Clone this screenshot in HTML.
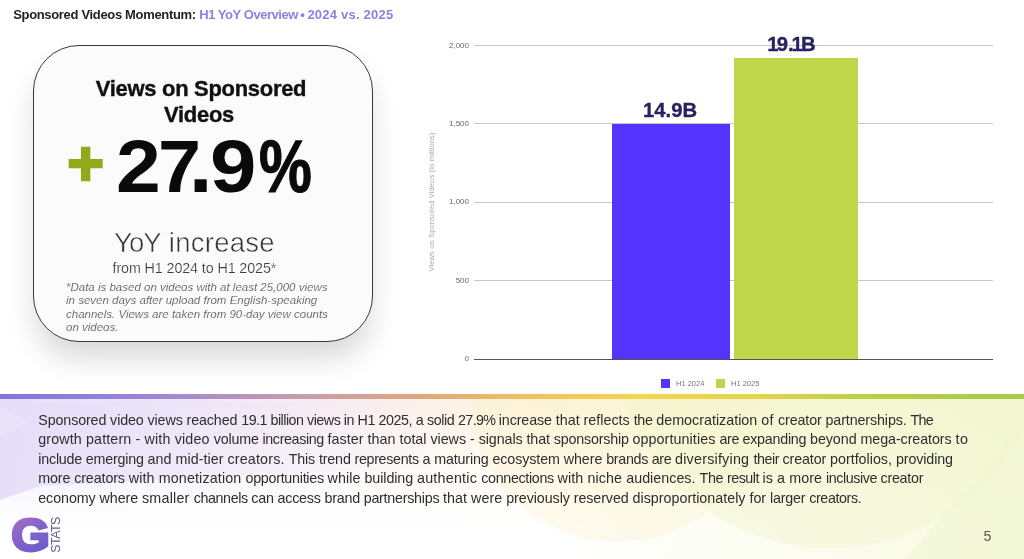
<!DOCTYPE html>
<html lang="en">
<head>
<meta charset="utf-8">
<title>Sponsored Videos Momentum</title>
<style>
*{margin:0;padding:0;box-sizing:border-box}
html,body{width:1024px;height:559px;overflow:hidden;background:#fff}
body{position:relative;font-family:"Liberation Sans",sans-serif;color:#111}
#w{position:absolute;left:0;top:0;width:1024px;height:559px;will-change:transform}
.abs{position:absolute;white-space:nowrap}
/* bottom band */
#band{position:absolute;left:0;top:394px;width:1024px;height:165px;display:block}
#bar{position:absolute;left:0;top:394.4px;width:1024px;height:4.4px;
background:linear-gradient(90deg,#8375dc 0%,#9c86d6 15%,#c49cae 28%,#e2a87c 42%,#f0c260 52%,#f5d452 62%,#e2d44e 74%,#b8cf4a 85%,#a6cb48 100%)}
/* title */
#title{left:13.2px;top:6px;font-size:13px;font-weight:700;line-height:18px;color:#222;letter-spacing:-.33px}
#title2{left:199.2px;top:6px;font-size:13px;font-weight:700;line-height:18px;color:#8d80e4;letter-spacing:-.45px}
/* card */
#card{position:absolute;left:33px;top:45px;width:340px;height:297px;border:1.7px solid #383838;border-radius:46px;background:#fbfbfb;
box-shadow:0 19px 30px -3px rgba(0,0,0,.16)}
.c{position:absolute;left:33px;width:340px;text-align:center;white-space:nowrap}
#h1b{left:29px;top:100.9px;font-size:23px;font-weight:700;line-height:27px;color:#111;letter-spacing:-.3px;transform:scale(.955,.935);transform-origin:50% 78%;-webkit-text-stroke:.4px #111}
#h1{left:30.5px;top:74.6px;font-size:23px;font-weight:700;line-height:27px;color:#111;letter-spacing:-.3px;transform:scale(.955,.935);transform-origin:50% 78%;-webkit-text-stroke:.4px #111}
#big{left:116.35px;top:122px;font-size:75px;font-weight:700;line-height:80px;height:80px;color:#0a0a0a}
#big b{display:inline-block;font-weight:700;transform-origin:0 50%}
#plus{left:67.3px;top:123.4px;font-size:63px;font-weight:700;line-height:80px;color:#93a91c;-webkit-text-stroke:2.4px #93a91c}
#yoy{left:24.5px;top:226.6px;font-size:27.5px;line-height:32px;color:#333;-webkit-text-stroke:.55px #fbfbfb}
#from{left:24.4px;top:258.6px;font-size:14.3px;line-height:18px;color:#3a3a3a;letter-spacing:-.1px;-webkit-text-stroke:.2px #fbfbfb}
#note{left:66px;top:280.5px;font-size:11.5px;line-height:13.6px;font-style:italic;color:#505050;white-space:nowrap;-webkit-text-stroke:.15px #fbfbfb}
/* chart */
.g{position:absolute;left:474px;width:519px;height:1px;background:#c6c6c6}
.t{position:absolute;left:420px;width:49px;text-align:right;font-size:8px;line-height:10px;color:#666}
#b1{position:absolute;left:611.5px;top:124.2px;width:118px;height:234.8px;background:#5533ff}
#b2{position:absolute;left:733.8px;top:58.4px;width:124px;height:300.6px;background:#bfd64a}
.v i{font-style:normal;margin:0 -1.8px 0 -2.2px}
.v{font-size:20.3px;font-weight:700;color:#262360;line-height:22px;text-align:center;-webkit-text-stroke:.3px #262360}
#ax{left:432px;top:201.6px;font-size:7.5px;letter-spacing:.13px;color:#aaa;line-height:8px;transform:translate(-50%,-50%) rotate(-90deg)}
.ls{position:absolute;width:9px;height:9px;top:379px}
.lt{font-size:7.5px;color:#777;line-height:9px;top:379.3px}
/* body text */
#p{position:absolute;left:38.3px;top:411px;font-size:14.3px;line-height:19.45px;color:#2e2e2e}
#p span{display:block;position:relative;height:19.45px;white-space:pre}
#p i{position:absolute;top:0;font-style:normal;white-space:pre}
#pg{left:983.6px;top:527.8px;font-size:14.3px;line-height:16px;color:#555}
#G{position:absolute;left:0;top:505px;width:64px;height:54px;overflow:visible}
#stats{left:55.5px;top:535px;font-size:12.5px;line-height:14px;color:#635c88;letter-spacing:-.6px;transform:translate(-50%,-50%) rotate(-90deg)}
</style>
</head>
<body>
<div id="w">
<svg id="band" width="1024" height="165" viewBox="0 0 1024 165">
<defs>
<linearGradient id="hz" x1="0" x2="1" y1="0" y2="0">
<stop offset="0" stop-color="#e5ddfa"/><stop offset=".14" stop-color="#ebe3f9"/><stop offset=".28" stop-color="#f5e9f3"/>
<stop offset=".42" stop-color="#fdf0e6"/><stop offset=".55" stop-color="#fef5d6"/><stop offset=".68" stop-color="#fcf8d0"/>
<stop offset=".82" stop-color="#f4f8cf"/><stop offset="1" stop-color="#ebf5c7"/>
</linearGradient>
<linearGradient id="vf" x1="0" x2="0" y1="0" y2="1">
<stop offset="0" stop-color="#fff" stop-opacity="0"/><stop offset=".2" stop-color="#fff" stop-opacity=".3"/>
<stop offset=".5" stop-color="#fff" stop-opacity=".68"/><stop offset=".72" stop-color="#fff" stop-opacity=".93"/><stop offset=".85" stop-color="#fff" stop-opacity="1"/>
</linearGradient>
<linearGradient id="lv" x1="0" x2="1" y1="0" y2="0">
<stop offset="0" stop-color="#e5def9" stop-opacity="1"/><stop offset="1" stop-color="#f3e8f6" stop-opacity="0"/>
</linearGradient>
<linearGradient id="rt" x1="0" x2="1" y1="0" y2="0"><stop offset="0" stop-color="#f7f9e0" stop-opacity="0"/><stop offset=".6" stop-color="#f8fae0" stop-opacity=".6"/><stop offset="1" stop-color="#f4f8d8" stop-opacity=".75"/></linearGradient>
</defs>
<rect width="1024" height="165" fill="url(#hz)"/>
<rect width="1024" height="165" fill="url(#vf)"/>
<polygon points="0,8 0,106 40,92 440,72 440,8" fill="url(#lv)" opacity="1"/>
<polygon points="0,14 30,28 0,42" fill="#fff" opacity=".16"/>
<rect x="560" width="464" height="165" fill="url(#rt)"/>
<circle cx="618" cy="0" r="148" fill="#fdf3cf" opacity=".38"/>
<circle cx="830" cy="-64" r="218" fill="#f1f6c8" opacity=".4"/>
<polygon points="1024,30 1024,165 905,165" fill="#f0f6d0" opacity=".55"/>
</svg>
<div id="bar"></div>

<div id="title" class="abs">Sponsored Videos Momentum:</div>
<div id="title2" class="abs">H1 YoY Overview<span style="position:absolute;left:101.1px;top:0;letter-spacing:0">•</span><span style="position:absolute;left:108.2px;top:0;letter-spacing:.22px">2024 vs. 2025</span></div>

<div id="card"></div>
<div id="h1" class="c">Views on Sponsored</div>
<div id="h1b" class="c">Videos</div>
<div id="plus" class="abs">+</div>
<div id="big" class="abs"><b style="width:41.55px;transform:scaleX(1.073)">2</b><b style="width:30.75px;transform:scaleX(1.031)">7</b><b style="width:21.35px;font-size:86px">.</b><b style="width:48.7px;transform:scaleX(1.113)">9</b><b style="transform:scaleX(.792);-webkit-text-stroke:1.2px #0a0a0a">%</b></div>
<div id="yoy" class="c"><span style="letter-spacing:-.9px">YoY</span><span style="letter-spacing:.28px"> increase</span></div>
<div id="from" class="c">from H1 2024 to H1 2025*</div>
<div id="note" class="abs">*Data is based on videos with at least 25,000 views<br>in seven days after upload from English-speaking<br>channels. Views are taken from 90-day view counts<br>on videos.</div>

<div class="g" style="top:45px"></div>
<div class="g" style="top:123.4px"></div>
<div class="g" style="top:201.8px"></div>
<div class="g" style="top:280.2px"></div>
<div class="g" style="top:358.6px;background:#555"></div>
<div class="t" style="top:40.5px">2,000</div>
<div class="t" style="top:119px">1,500</div>
<div class="t" style="top:197.4px">1,000</div>
<div class="t" style="top:275.8px">500</div>
<div class="t" style="top:354.2px">0</div>
<div id="ax" class="abs">Views on Sponsored Videos (In millions)</div>
<div id="b1"></div>
<div id="b2"></div>
<div class="abs v" style="left:611px;width:118px;top:99px">14.9B</div>
<div class="abs v" style="left:730.6px;width:124px;top:33px"><i>1</i>9.<i>1</i>B</div>
<div class="ls" style="left:661px;background:#5533ff"></div>
<div class="abs lt" style="left:676px">H1 2024</div>
<div class="ls" style="left:716px;background:#bfd64a"></div>
<div class="abs lt" style="left:731px">H1 2025</div>

<div id="p">
<span><i style="left:-0.05px;letter-spacing:-0.127px">Sponsored video </i><i style="left:109.20px;letter-spacing:-0.115px">views reached </i><i style="left:202.95px;letter-spacing:-0.507px">19.1 billion </i><i style="left:268.70px;letter-spacing:-0.481px">views in </i><i style="left:319.20px;letter-spacing:-0.417px">H1 2025, </i><i style="left:377.45px;letter-spacing:-0.383px">a solid </i><i style="left:419.70px;letter-spacing:-0.628px">27.9% </i><i style="left:460.45px;letter-spacing:-0.113px">increase </i><i style="left:517.45px;letter-spacing:0.009px">that reflects </i><i style="left:595.45px;letter-spacing:-0.340px">the </i><i style="left:617.95px;letter-spacing:0.006px">democratization </i><i style="left:722.95px;letter-spacing:0.281px">of </i><i style="left:739.70px;letter-spacing:-0.121px">creator </i><i style="left:787.20px;letter-spacing:-0.116px">partnerships. </i><i style="left:872.20px;letter-spacing:-0.695px">The</i></span>
<span><i style="left:-0.05px;letter-spacing:0.126px">growth pattern - </i><i style="left:106.20px;letter-spacing:0.153px">with video </i><i style="left:175.45px;letter-spacing:-0.188px">volume </i><i style="left:224.20px;letter-spacing:-0.376px">increasing </i><i style="left:289.20px;letter-spacing:0.039px">faster than </i><i style="left:361.20px;letter-spacing:-0.015px">total views - </i><i style="left:440.45px;letter-spacing:-0.100px">signals that </i><i style="left:515.45px;letter-spacing:-0.193px">sponsorship </i><i style="left:594.20px;letter-spacing:0.083px">opportunities </i><i style="left:681.20px;letter-spacing:-0.410px">are </i><i style="left:704.20px;letter-spacing:-0.247px">expanding </i><i style="left:771.70px;letter-spacing:-0.056px">beyond </i><i style="left:822.20px;letter-spacing:-0.083px">mega-creators </i><i style="left:917.20px;letter-spacing:0.562px">to</i></span>
<span><i style="left:-0.05px;letter-spacing:-0.212px">include emerging </i><i style="left:109.20px;letter-spacing:0.041px">and mid-tier </i><i style="left:189.20px;letter-spacing:0.166px">creators. </i><i style="left:250.45px;letter-spacing:-0.163px">This trend </i><i style="left:316.20px;letter-spacing:-0.321px">represents </i><i style="left:384.20px;letter-spacing:-0.139px">a maturing </i><i style="left:454.20px;letter-spacing:-0.106px">ecosystem </i><i style="left:525.45px;letter-spacing:-0.070px">where </i><i style="left:567.95px;letter-spacing:-0.325px">brands are </i><i style="left:636.70px;letter-spacing:0.231px">diversifying </i><i style="left:715.20px;letter-spacing:-0.466px">their </i><i style="left:744.20px;letter-spacing:-0.121px">creator </i><i style="left:791.70px;letter-spacing:0.003px">portfolios, </i><i style="left:857.70px;letter-spacing:-0.129px">providing</i></span>
<span><i style="left:-0.05px;letter-spacing:-0.119px">more creators </i><i style="left:90.45px;letter-spacing:0.119px">with </i><i style="left:120.45px;letter-spacing:0.131px">monetization </i><i style="left:207.20px;letter-spacing:-0.275px">opportunities </i><i style="left:289.20px;letter-spacing:0.073px">while </i><i style="left:326.20px;letter-spacing:-0.085px">building </i><i style="left:378.70px;letter-spacing:0.225px">authentic </i><i style="left:442.95px;letter-spacing:-0.336px">connections </i><i style="left:519.20px;letter-spacing:0.108px">with niche </i><i style="left:587.95px;letter-spacing:0.011px">audiences. </i><i style="left:661.20px;letter-spacing:-0.277px">The </i><i style="left:688.70px;letter-spacing:-0.491px">result </i><i style="left:724.20px;letter-spacing:0.103px">is a </i><i style="left:750.95px;letter-spacing:0.041px">more </i><i style="left:787.70px;letter-spacing:-0.431px">inclusive </i><i style="left:842.20px;letter-spacing:-0.250px">creator</i></span>
<span><i style="left:-0.05px;letter-spacing:-0.083px">economy where </i><i style="left:103.70px;letter-spacing:0.213px">smaller </i><i style="left:155.45px;letter-spacing:-0.411px">channels </i><i style="left:212.95px;letter-spacing:-0.205px">can access </i><i style="left:286.20px;letter-spacing:-0.216px">brand </i><i style="left:325.45px;letter-spacing:-0.262px">partnerships </i><i style="left:404.70px;letter-spacing:0.047px">that were </i><i style="left:467.95px;letter-spacing:-0.077px">previously </i><i style="left:535.45px;letter-spacing:-0.095px">reserved </i><i style="left:594.20px;letter-spacing:0.009px">disproportionately </i><i style="left:711.20px;letter-spacing:-0.043px">for </i><i style="left:731.70px;letter-spacing:-0.183px">larger </i><i style="left:770.95px;letter-spacing:-0.391px">creators.</i></span>
</div>

<svg id="G" width="64" height="54" viewBox="0 0 64 54">
<defs><linearGradient id="gg" gradientUnits="userSpaceOnUse" x1="14" y1="10" x2="40" y2="50"><stop offset="0" stop-color="#a96dc4"/><stop offset=".55" stop-color="#7f62cd"/><stop offset="1" stop-color="#6a5cc9"/></linearGradient></defs>
<text x="11.2" y="46.4" font-family="Liberation Sans, sans-serif" font-weight="700" font-size="46.5" fill="url(#gg)" stroke="url(#gg)" stroke-width="2.8" stroke-linejoin="miter" textLength="38.6" lengthAdjust="spacingAndGlyphs">G</text>
</svg>
<div id="stats" class="abs">STATS</div>
<div id="pg" class="abs">5</div>
</div>
</body>
</html>
